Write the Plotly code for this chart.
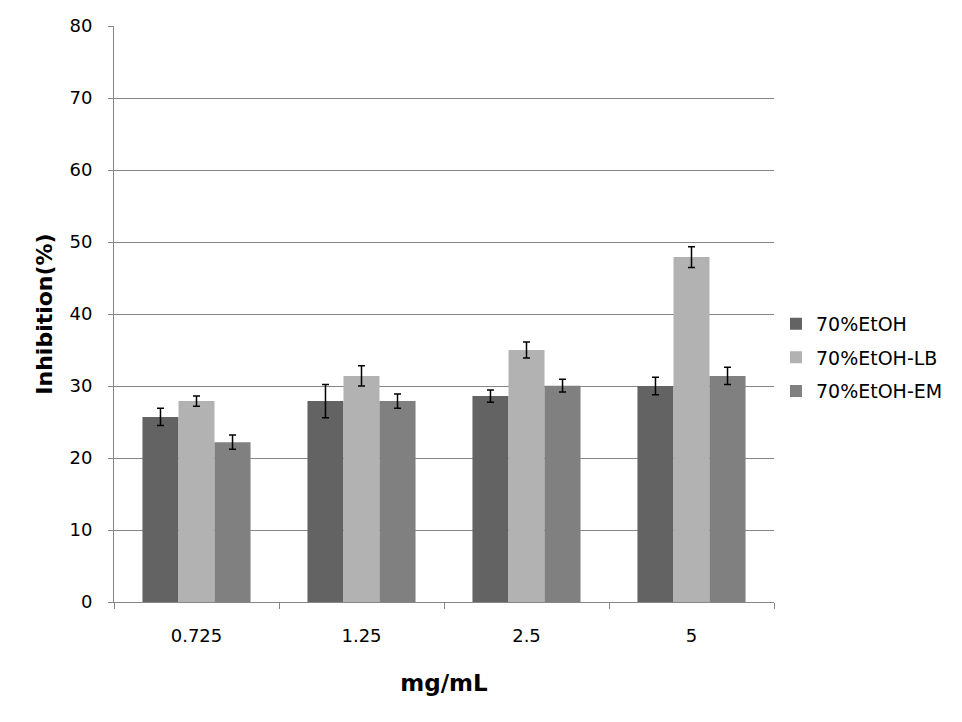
import plotly.graph_objects as go

# Категорії (концентрації) та ряди даних
doses = ['0.725', '1.25', '2.5', '5']
series_names = ['70%EtOH', '70%EtOH-LB', '70%EtOH-EM']
etoh = [25.7, 27.9, 28.6, 30.0]
etoh_err = [1.2, 2.3, 0.85, 1.2]
etoh_lb = [27.9, 31.4, 35.0, 47.9]
etoh_lb_err = [0.7, 1.4, 1.1, 1.45]
etoh_em = [22.2, 27.9, 30.05, 31.4]
etoh_em_err = [1.0, 1.0, 0.9, 1.2]

bar_colors = ['#636363', '#b2b2b2', '#808080']
grid_color = '#868686'
font_family = 'DejaVu Sans, sans-serif'

fig = go.Figure()
for name, vals, errs, col in zip(series_names,
                                 [etoh, etoh_lb, etoh_em],
                                 [etoh_err, etoh_lb_err, etoh_em_err],
                                 bar_colors):
    fig.add_trace(go.Bar(x=doses, y=vals, name=name, legendgroup=name,
                         marker=dict(color=col, line=dict(width=0)),
                         error_y=dict(type='data', array=errs, visible=True,
                                      color='black', thickness=1.5, width=3.5)))

# Поля підібрані з урахуванням відступу сторінки (8px)
fig.update_layout(width=962, height=722,
                  barmode='group', bargap=0.345, bargroupgap=0,
                  plot_bgcolor='white', paper_bgcolor='white',
                  margin=dict(l=106, r=196, t=18, b=128),
                  font=dict(family=font_family, size=18, color='black'),
                  legend=dict(x=1.003, y=0.424, xanchor='left', yanchor='middle',
                              font=dict(size=19), itemwidth=30,
                              tracegroupgap=6, traceorder='grouped'),
                  showlegend=True)

fig.update_xaxes(title=dict(text='<b>mg/mL</b>', font=dict(size=23), standoff=30),
                 showline=True, linecolor=grid_color, linewidth=1,
                 ticks='outside', tickson='boundaries', ticklen=6,
                 tickcolor=grid_color, tickfont=dict(size=18),
                 ticklabelstandoff=17, automargin=False)

fig.update_yaxes(title=dict(text='<b>Inhibition(%)</b>', font=dict(size=22), standoff=10),
                 range=[0, 80], dtick=10,
                 showgrid=True, gridcolor=grid_color, gridwidth=1,
                 showline=True, linecolor=grid_color, linewidth=1,
                 ticks='outside', ticklen=5, tickcolor=grid_color,
                 tickfont=dict(size=18), zeroline=False,
                 ticklabelstandoff=12, automargin=False)

fig.write_html("out.html")
